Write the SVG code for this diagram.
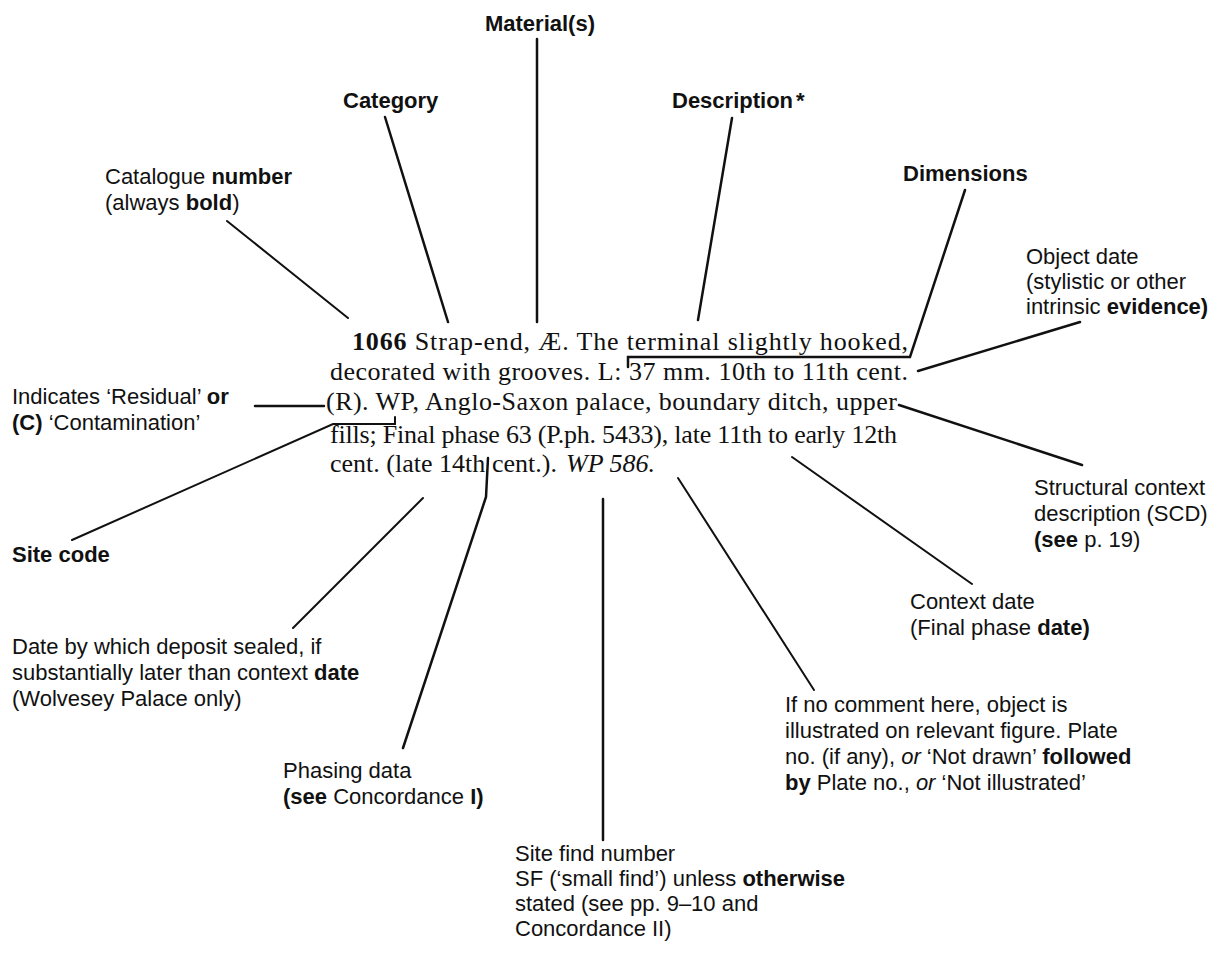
<svg xmlns="http://www.w3.org/2000/svg" width="1213" height="955" viewBox="0 0 1213 955">
<style>
.lbl{font-family:"Liberation Sans",Arial,Helvetica,sans-serif;font-size:22px;fill:#111}
.para{font-family:"Liberation Serif","Times New Roman",serif;font-size:26px;fill:#111}
.b{font-weight:bold}
.i{font-style:italic}
.ln{fill:none;stroke:#111;stroke-width:2.5;stroke-linecap:round;stroke-linejoin:miter}
.thin{stroke-width:2}
</style>
<rect width="1213" height="955" fill="#fff"/>

<g id="entry">
<text class="para" x="352" y="350" textLength="556" lengthAdjust="spacing"><tspan class="b">1066</tspan> Strap-end, Æ. The terminal slightly hooked,</text>
<text class="para" x="330" y="380" textLength="578" lengthAdjust="spacing">decorated with grooves. L: 37 mm. 10th to 11th cent.</text>
<text class="para" x="326" y="410" textLength="571" lengthAdjust="spacing">(R). WP, Anglo-Saxon palace, boundary ditch, upper</text>
<text class="para" x="330" y="443" textLength="567" lengthAdjust="spacing">fills; Final phase 63 (P.ph. 5433), late 11th to early 12th</text>
<text class="para" y="472"><tspan x="330">cent. (late 14th</tspan><tspan x="492">cent.).</tspan><tspan x="566" class="i">WP 586.</tspan></text>
</g>

<g id="connectors">
<line class="ln" x1="537" y1="39" x2="537" y2="322"/>
<line class="ln" x1="385" y1="117" x2="448" y2="322"/>
<line class="ln" x1="732" y1="118" x2="698" y2="320"/>
<line class="ln thin" x1="227" y1="221" x2="348" y2="318"/>
<polyline class="ln" points="965,190 910,357 628,357 628,367"/>
<line class="ln" x1="1080" y1="322" x2="918" y2="371"/>
<line class="ln" x1="255" y1="406" x2="324" y2="406"/>
<polyline class="ln thin" points="72,540 333,424 395,424 395,417"/>
<line class="ln" x1="899" y1="405" x2="1082" y2="465"/>
<line class="ln thin" x1="792" y1="457" x2="972" y2="584"/>
<line class="ln thin" x1="423" y1="498" x2="293" y2="628"/>
<polyline class="ln" points="403,748 486,497 488,458"/>
<line class="ln" x1="603" y1="499" x2="603" y2="840"/>
<line class="ln thin" x1="678" y1="478" x2="814" y2="690"/>
</g>

<g id="material"><text class="lbl b" x="540" y="31" text-anchor="middle">Material(s)</text></g>
<g id="category"><text class="lbl b" x="343" y="108">Category</text></g>
<g id="description"><text class="lbl b" x="672" y="108">Description<tspan dx="3">*</tspan></text></g>
<g id="catalogue-number"><text class="lbl" x="105" y="184">Catalogue <tspan class="b">number</tspan></text><text class="lbl" x="105" y="210">(always <tspan class="b">bold</tspan>)</text></g>
<g id="dimensions"><text class="lbl b" x="903" y="181">Dimensions</text></g>
<g id="object-date"><text class="lbl" x="1026" y="264">Object date</text><text class="lbl" x="1026" y="289">(stylistic or other</text><text class="lbl" x="1026" y="314">intrinsic <tspan class="b">evidence)</tspan></text></g>
<g id="residual"><text class="lbl" x="12" y="404">Indicates ‘Residual’ <tspan class="b">or</tspan></text><text class="lbl" x="12" y="430"><tspan class="b">(C)</tspan> ‘Contamination’</text></g>
<g id="scd"><text class="lbl" x="1034" y="495">Structural context</text><text class="lbl" x="1034" y="521">description (SCD)</text><text class="lbl" x="1034" y="547"><tspan class="b">(see</tspan> p. 19)</text></g>
<g id="site-code"><text class="lbl b" x="12" y="562">Site code</text></g>
<g id="context-date"><text class="lbl" x="910" y="609">Context date</text><text class="lbl" x="910" y="635">(Final phase <tspan class="b">date)</tspan></text></g>
<g id="sealed-date"><text class="lbl" x="12" y="654">Date by which deposit sealed, if</text><text class="lbl" x="12" y="680">substantially later than context <tspan class="b">date</tspan></text><text class="lbl" x="12" y="706">(Wolvesey Palace only)</text></g>
<g id="illustration"><text class="lbl" x="785" y="712">If no comment here, object is</text><text class="lbl" x="785" y="738">illustrated on relevant figure. Plate</text><text class="lbl" x="785" y="764">no. (if any), <tspan class="i">or</tspan> ‘Not drawn’ <tspan class="b">followed</tspan></text><text class="lbl" x="785" y="790"><tspan class="b">by</tspan> Plate no., <tspan class="i">or</tspan> ‘Not illustrated’</text></g>
<g id="phasing"><text class="lbl" x="283" y="778">Phasing data</text><text class="lbl" x="283" y="804"><tspan class="b">(see</tspan> Concordance <tspan class="b">I)</tspan></text></g>
<g id="site-find"><text class="lbl" x="515" y="861">Site find number</text><text class="lbl" x="515" y="886">SF (‘small find’) unless <tspan class="b">otherwise</tspan></text><text class="lbl" x="515" y="911">stated (see pp. 9–10 and</text><text class="lbl" x="515" y="936">Concordance II)</text></g>
</svg>
